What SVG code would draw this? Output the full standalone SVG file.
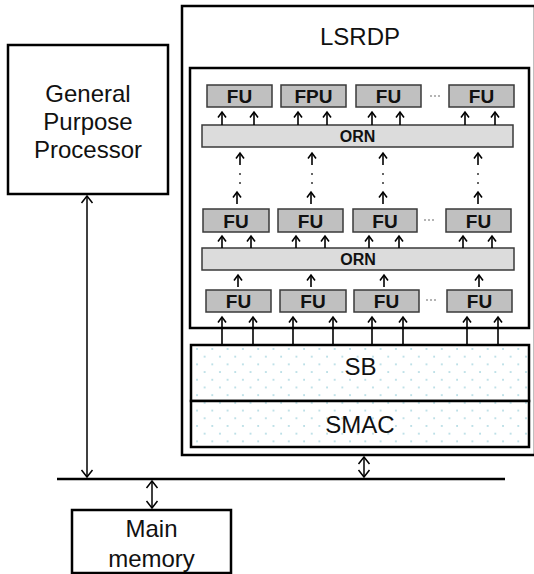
<svg xmlns="http://www.w3.org/2000/svg" width="534" height="574" viewBox="0 0 534 574">
  <style>
    .box { fill: #ffffff; stroke: #000000; stroke-width: 2.5; }
    .fu { fill: #c0c0c0; stroke: #3a3a3a; stroke-width: 1.5; }
    .orn { fill: #dcdcdc; stroke: #3a3a3a; stroke-width: 1.5; }
    .mem { fill: url(#dots); stroke: #000000; stroke-width: 2.5; }
    .lbl { font-family: "Liberation Sans", Arial, sans-serif; font-size: 24px; fill: #111111; text-anchor: middle; }
    .fut { font-family: "Liberation Sans", Arial, sans-serif; font-size: 19px; font-weight: bold; fill: #111111; text-anchor: middle; }
    .ornt { font-family: "Liberation Sans", Arial, sans-serif; font-size: 16px; font-weight: bold; fill: #111111; text-anchor: middle; }
    .a { stroke: #000000; stroke-width: 1.6; fill: none; marker-end: url(#tip); }
    .bi { stroke: #000000; stroke-width: 1.5; fill: none; marker-start: url(#tipL); marker-end: url(#tipL); }
    .bus { stroke: #000000; stroke-width: 2.5; fill: none; }
    .vdot { fill: #333333; }
    .hdot { fill: #555555; }
  </style>
  <defs>
    <pattern id="dots" patternUnits="userSpaceOnUse" x="196" y="348" width="15.3" height="15.4">
      <rect width="15.3" height="15.4" fill="#ffffff"/>
      <circle cx="1" cy="1" r="0.9" fill="#a6d5df"/>
      <circle cx="8.65" cy="8.7" r="0.9" fill="#a6d5df"/>
    </pattern>
    <marker id="tip" markerUnits="userSpaceOnUse" viewBox="-7 -5 9 10" markerWidth="9" markerHeight="10" refX="0" refY="0" orient="auto-start-reverse">
      <path d="M-5.5,-4 L0,0 L-5.5,4" fill="none" stroke="#000000" stroke-width="1.6"/>
    </marker>
    <marker id="tipL" markerUnits="userSpaceOnUse" viewBox="-8 -7 10 14" markerWidth="10" markerHeight="14" refX="0" refY="0" orient="auto-start-reverse">
      <path d="M-7,-5.5 L0,0 L-7,5.5" fill="none" stroke="#000000" stroke-width="1.5"/>
    </marker>
    <!-- horizontal ellipsis between units -->
    <g id="ellipsis">
      <circle class="hdot" cx="-4" cy="0" r="0.8"/>
      <circle class="hdot" cx="0" cy="0" r="0.8"/>
      <circle class="hdot" cx="4" cy="0" r="0.8"/>
    </g>
  </defs>

  <!-- LSRDP enclosure -->
  <g id="lsrdp">
    <rect class="box" x="182" y="6" width="353" height="449"/>
    <text class="lbl" x="360" y="45">LSRDP</text>
  </g>

  <!-- functional-unit array -->
  <g id="array">
    <rect class="box" x="190" y="68" width="339" height="260"/>
  </g>

  <!-- top row -->
  <g id="fu-r1-1"><rect class="fu" x="207" y="85" width="65" height="22"/><text class="fut" x="239.5" y="103">FU</text></g>
  <g id="fpu-r1-2"><rect class="fu" x="281" y="85" width="65" height="22"/><text class="fut" x="313.5" y="103">FPU</text></g>
  <g id="fu-r1-3"><rect class="fu" x="356" y="85" width="65" height="22"/><text class="fut" x="388.5" y="103">FU</text></g>
  <g id="fu-r1-4"><rect class="fu" x="449" y="85" width="65" height="22"/><text class="fut" x="481.5" y="103">FU</text></g>
  <use href="#ellipsis" x="435" y="96"/>

  <g id="orn-1"><rect class="orn" x="202" y="125" width="311" height="22"/><text class="ornt" x="357.5" y="142">ORN</text></g>

  <!-- middle row -->
  <g id="fu-r2-1"><rect class="fu" x="203" y="209" width="66" height="23"/><text class="fut" x="236" y="227.5">FU</text></g>
  <g id="fu-r2-2"><rect class="fu" x="278" y="209" width="65" height="23"/><text class="fut" x="310.5" y="227.5">FU</text></g>
  <g id="fu-r2-3"><rect class="fu" x="353" y="209" width="64" height="23"/><text class="fut" x="385" y="227.5">FU</text></g>
  <g id="fu-r2-4"><rect class="fu" x="446" y="209" width="65" height="23"/><text class="fut" x="478.5" y="227.5">FU</text></g>
  <use href="#ellipsis" x="429" y="220"/>

  <g id="orn-2"><rect class="orn" x="202" y="248" width="312" height="22"/><text class="ornt" x="358" y="265">ORN</text></g>

  <!-- bottom row -->
  <g id="fu-r3-1"><rect class="fu" x="206" y="290" width="65" height="22"/><text class="fut" x="238.5" y="308">FU</text></g>
  <g id="fu-r3-2"><rect class="fu" x="280" y="290" width="66" height="22"/><text class="fut" x="313" y="308">FU</text></g>
  <g id="fu-r3-3"><rect class="fu" x="354" y="290" width="65" height="22"/><text class="fut" x="386.5" y="308">FU</text></g>
  <g id="fu-r3-4"><rect class="fu" x="447" y="290" width="65" height="22"/><text class="fut" x="479.5" y="308">FU</text></g>
  <use href="#ellipsis" x="431" y="300"/>

  <!-- stream buffer and memory access controller -->
  <g id="sb">
    <rect class="mem" x="191" y="345" width="338" height="56"/>
    <text class="lbl" x="360.5" y="375">SB</text>
  </g>
  <g id="smac">
    <rect class="mem" x="191" y="401" width="338" height="46"/>
    <text class="lbl" x="360" y="433">SMAC</text>
  </g>

  <!-- host processor -->
  <g id="gpp">
    <rect class="box" x="8" y="45" width="160" height="149"/>
    <text class="lbl" x="88" y="102">General</text>
    <text class="lbl" x="88" y="130">Purpose</text>
    <text class="lbl" x="88" y="158">Processor</text>
  </g>

  <!-- main memory -->
  <g id="main-memory">
    <rect class="box" x="72" y="510" width="159" height="63"/>
    <text class="lbl" x="151.5" y="537">Main</text>
    <text class="lbl" x="151.5" y="567">memory</text>
  </g>

  <!-- connectors -->
  <g id="connectors">
    <!-- system bus -->
    <line class="bus" x1="57" y1="479" x2="505" y2="479"/>
    <line class="bi" x1="87" y1="196" x2="87" y2="477"/>
    <line class="bi" x1="152" y1="481" x2="152" y2="508"/>
    <line class="bi" x1="364" y1="457" x2="364" y2="477"/>

    <!-- ORN 1 to top row -->
    <line class="a" x1="222" y1="125" x2="222" y2="112"/>
    <line class="a" x1="254" y1="125" x2="254" y2="112"/>
    <line class="a" x1="298" y1="125" x2="298" y2="112"/>
    <line class="a" x1="327" y1="125" x2="327" y2="112"/>
    <line class="a" x1="372" y1="125" x2="372" y2="112"/>
    <line class="a" x1="400" y1="125" x2="400" y2="112"/>
    <line class="a" x1="465" y1="125" x2="465" y2="112"/>
    <line class="a" x1="495" y1="125" x2="495" y2="112"/>

    <!-- upward into ORN 1 -->
    <line class="a" x1="240" y1="165" x2="240" y2="153"/>
    <line class="a" x1="312" y1="165" x2="312" y2="153"/>
    <line class="a" x1="383" y1="165" x2="383" y2="153"/>
    <line class="a" x1="478" y1="165" x2="478" y2="153"/>

    <!-- repeated stages -->
    <circle class="vdot" cx="240" cy="174" r="1"/><circle class="vdot" cx="240" cy="183" r="1"/>
    <circle class="vdot" cx="312" cy="174" r="1"/><circle class="vdot" cx="312" cy="183" r="1"/>
    <circle class="vdot" cx="383" cy="174" r="1"/><circle class="vdot" cx="383" cy="183" r="1"/>
    <circle class="vdot" cx="478" cy="174" r="1"/><circle class="vdot" cx="478" cy="183" r="1"/>

    <!-- out of middle row -->
    <line class="a" x1="237" y1="204" x2="237" y2="192"/>
    <line class="a" x1="311" y1="204" x2="311" y2="192"/>
    <line class="a" x1="383" y1="204" x2="383" y2="192"/>
    <line class="a" x1="478" y1="204" x2="478" y2="192"/>

    <!-- ORN 2 to middle row -->
    <line class="a" x1="222" y1="248" x2="222" y2="236"/>
    <line class="a" x1="251" y1="248" x2="251" y2="236"/>
    <line class="a" x1="296" y1="248" x2="296" y2="236"/>
    <line class="a" x1="325" y1="248" x2="325" y2="236"/>
    <line class="a" x1="369" y1="248" x2="369" y2="236"/>
    <line class="a" x1="399" y1="248" x2="399" y2="236"/>
    <line class="a" x1="463" y1="248" x2="463" y2="236"/>
    <line class="a" x1="492" y1="248" x2="492" y2="236"/>

    <!-- bottom row to ORN 2 -->
    <line class="a" x1="238" y1="287" x2="238" y2="275"/>
    <line class="a" x1="311" y1="287" x2="311" y2="275"/>
    <line class="a" x1="384" y1="287" x2="384" y2="275"/>
    <line class="a" x1="479" y1="287" x2="479" y2="275"/>

    <!-- SB to bottom row -->
    <line class="a" x1="222" y1="345" x2="222" y2="317"/>
    <line class="a" x1="253" y1="345" x2="253" y2="317"/>
    <line class="a" x1="293" y1="345" x2="293" y2="317"/>
    <line class="a" x1="333" y1="345" x2="333" y2="317"/>
    <line class="a" x1="372" y1="345" x2="372" y2="317"/>
    <line class="a" x1="403" y1="345" x2="403" y2="317"/>
    <line class="a" x1="467" y1="345" x2="467" y2="317"/>
    <line class="a" x1="498" y1="345" x2="498" y2="317"/>
  </g>
</svg>
